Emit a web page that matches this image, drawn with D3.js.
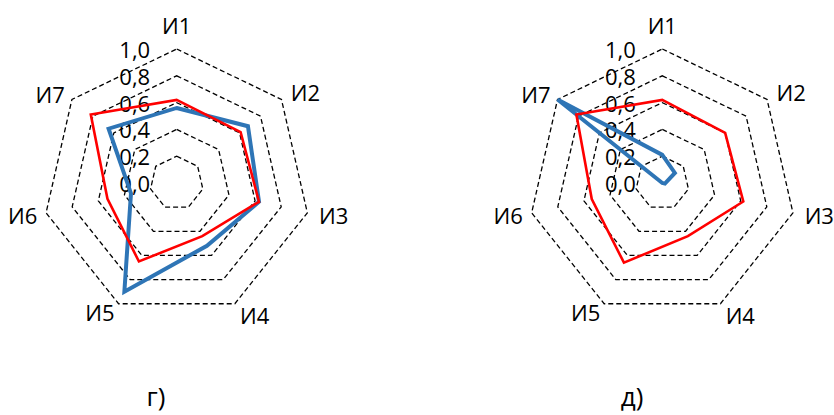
<!DOCTYPE html>
<html>
<head>
<meta charset="utf-8">
<script src="https://cdn.jsdelivr.net/npm/d3@7"></script>
<style>
  body { margin: 0; background: #fff; }
  text { font-family: "Open Sans", sans-serif; fill: #000; }
</style>
</head>
<body>
<div id="chart"></div>
<script>
// data
var axes = ["И1", "И2", "И3", "И4", "И5", "И6", "И7"];
var ticks = [0, 0.2, 0.4, 0.6, 0.8, 1.0];
var tickLabels = ["0,0", "0,2", "0,4", "0,6", "0,8", "1,0"];

var redG  = [0.62, 0.61, 0.63, 0.44, 0.65, 0.53, 0.82];
var blueG = [0.56, 0.68, 0.63, 0.52, 0.90, 0.35, 0.65];
var redD  = [0.62, 0.60, 0.62, 0.44, 0.66, 0.54, 0.82];
var blueD = [0.21, 0.12, 0.02, 0.0, 0.0, 0.0, 1.0];

var captions = ["г)", "д)"];

var width = 834, height = 415;
var R = 134;

var svg = d3.select("#chart").append("svg")
    .attr("width", width)
    .attr("height", height);

var r = d3.scaleLinear().domain([0, 1]).range([0, R]);
var angle = d3.scalePoint().domain(axes).range([0, 2 * Math.PI * 6 / 7]);

function radar(cx, cy, red, blue, caption, capX) {
    var g = svg.append("g").attr("transform", "translate(" + cx + "," + cy + ")");

    // dashed rings
    var ring = d3.lineRadial()
        .angle(function(d) { return angle(d); })
        .curve(d3.curveLinearClosed);

    g.selectAll(".ring")
        .data(ticks.filter(function(t) { return t > 0; }))
        .enter().append("path")
        .attr("d", function(t) { return ring.radius(r(t))(axes); })
        .style("fill", "none")
        .style("stroke", "#000")
        .style("stroke-width", "1.3px")
        .style("stroke-dasharray", "5,3");

    // axis labels
    axes.forEach(function(a) {
        var th = angle(a);
        var s = Math.sin(th), c = Math.cos(th);
        var anchor = Math.abs(s) < 0.01 ? "middle" : (s > 0 ? "start" : "end");
        var rr = s < -0.01 ? R + 9 : R + 12;
        var x = rr * s, y = -rr * c;
        if (Math.abs(s) < 0.01) y -= 12;
        g.append("text")
            .attr("x", x)
            .attr("y", y)
            .attr("text-anchor", anchor)
            .attr("dominant-baseline", "central")
            .style("font-size", "22px")
            .text(a);
    });

    // tick labels
    g.selectAll(".tick")
        .data(ticks)
        .enter().append("text")
        .attr("x", -26.5)
        .attr("y", function(t) { return -r(t); })
        .attr("text-anchor", "end")
        .attr("dominant-baseline", "central")
        .style("font-size", "22px")
        .text(function(t, i) { return tickLabels[i]; });

    var line = d3.lineRadial()
        .angle(function(d, i) { return angle(axes[i]); })
        .radius(function(d) { return r(d); })
        .curve(d3.curveLinearClosed);

    g.append("path")
        .attr("d", line(blue))
        .style("fill", "none")
        .style("stroke", "#2e75b6")
        .style("stroke-width", "4px");

    g.append("path")
        .attr("d", line(red))
        .style("fill", "none")
        .style("stroke", "#ff0000")
        .style("stroke-width", "2.6px");

    svg.append("text")
        .attr("x", capX)
        .attr("y", 406)
        .attr("text-anchor", "middle")
        .style("font-size", "26px")
        .text(caption);
}

radar(176.7, 183, redG, blueG, captions[0], 156);
radar(662.3, 183, redD, blueD, captions[1], 632);
</script>
</body>
</html>
